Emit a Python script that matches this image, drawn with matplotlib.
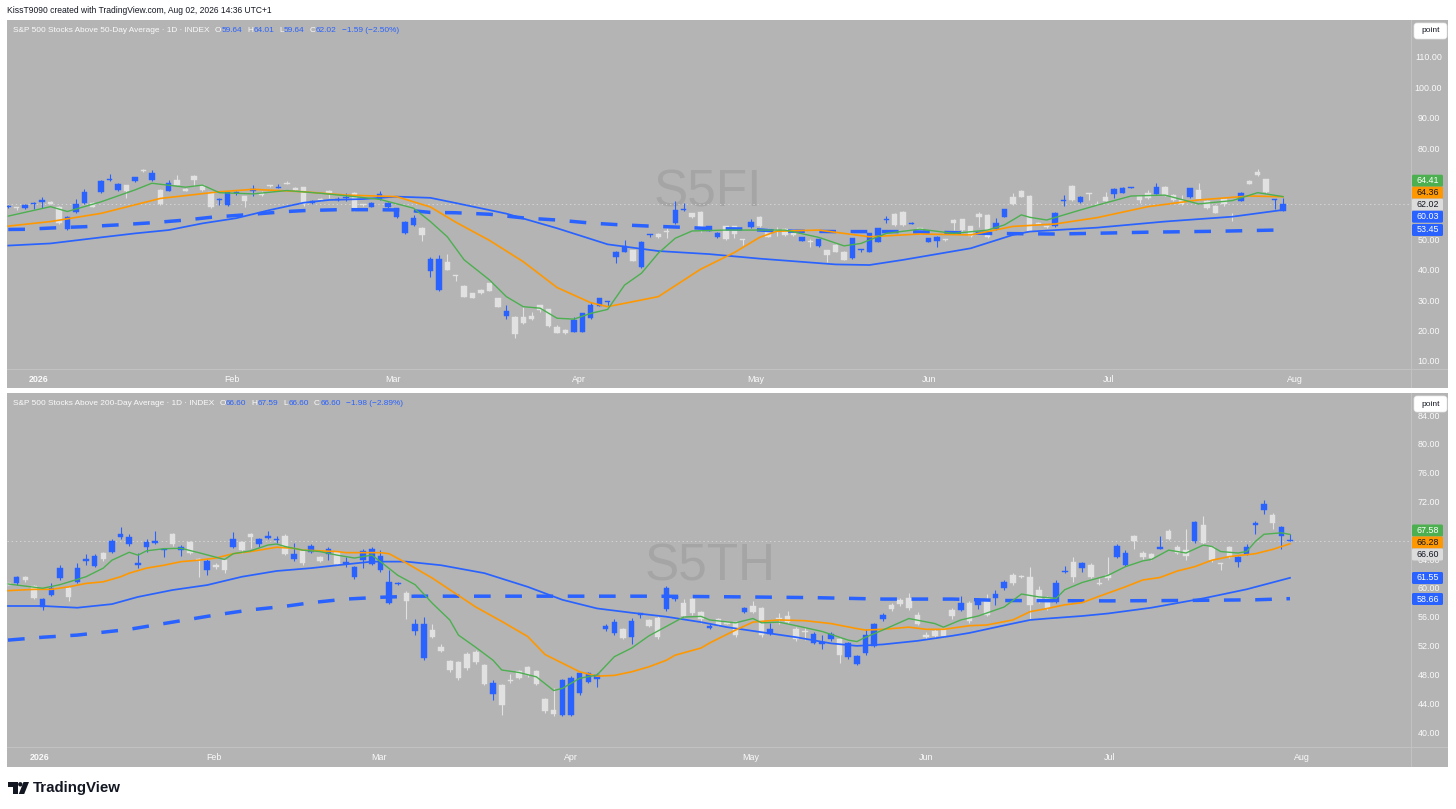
import matplotlib
matplotlib.use("Agg")
import matplotlib.pyplot as plt
from matplotlib import font_manager
from matplotlib.patches import FancyBboxPatch, Polygon, Circle, Rectangle
from matplotlib.transforms import IdentityTransform
import numpy as np

plt.rcParams['lines.scale_dashes'] = False
_names = {f.name for f in font_manager.fontManager.ttflist}
NARROW = 'Liberation Sans Narrow' if 'Liberation Sans Narrow' in _names else 'Liberation Sans'
REG = 'Liberation Sans'
SHRINK = 1.0 if NARROW == 'Liberation Sans Narrow' else 0.84

# ---------------- data: S5FI (top) ----------------
top_open = [60.9, 61.0, 60.5, 61.9, 62.6, 62.6, 60.9, 53.8, 59.3, 62.3,
 62.4, 65.8, 69.9, 66.5, 68.1, 69.5, 73.2, 69.8, 66.6, 66.3,
 69.8, 67.0, 71.3, 68.1, 65.8, 63.3, 61.6, 65.6, 64.5, 66.3,
 65.5, 68.0, 67.3, 68.8, 67.4, 67.5, 62.4, 63.7, 66.4, 63.4,
 63.9, 65.6, 61.8, 61.1, 63.5, 60.9, 57.6, 52.3, 55.1, 54.2,
 40.0, 33.7, 43.0, 38.5, 35.0, 32.6, 33.7, 35.9, 31.0, 25.2,
 24.9, 24.9, 25.1, 28.6, 27.3, 21.6, 20.5, 20.0, 20.0, 24.4,
 28.5, 29.8, 44.4, 46.3, 46.8, 41.2, 51.7, 52.1, 53.0, 55.6,
 60.0, 58.9, 59.4, 53.2, 51.2, 54.6, 54.6, 50.2, 54.3, 57.8,
 53.8, 53.2, 53.8, 53.4, 49.9, 49.9, 48.0, 46.8, 48.5, 46.3,
 44.1, 46.9, 46.3, 49.6, 56.8, 58.7, 59.4, 55.5, 54.0, 49.6,
 49.9, 50.3, 56.7, 56.9, 54.6, 58.7, 58.4, 53.7, 57.8, 64.4,
 66.3, 64.6, 55.7, 54.6, 54.7, 63.0, 67.9, 62.5, 65.4, 61.9,
 64.2, 65.3, 65.7, 67.3, 64.6, 65.5, 65.3, 67.5, 64.9, 63.3,
 64.2, 66.6, 63.1, 61.3, 63.5, 57.9, 63.1, 69.7, 72.6, 70.1,
 63.2, 59.64]
top_high = [61.6, 61.1, 62.0, 62.5, 64.3, 62.8, 61.2, 57.9, 63.6, 66.9,
 62.6, 69.8, 72.0, 68.9, 68.3, 71.0, 73.5, 73.3, 66.8, 69.9,
 71.4, 67.2, 71.5, 68.3, 66.0, 63.9, 66.0, 66.2, 64.7, 68.1,
 66.4, 68.3, 68.4, 69.7, 67.6, 67.7, 63.4, 63.9, 66.6, 64.2,
 65.5, 65.8, 62.0, 62.6, 66.3, 62.6, 60.8, 56.4, 58.4, 54.4,
 44.7, 45.2, 45.4, 38.6, 35.2, 32.8, 33.9, 36.1, 31.2, 28.8,
 25.1, 28.2, 26.6, 28.8, 27.5, 22.1, 20.7, 24.8, 26.2, 29.6,
 31.2, 30.1, 46.5, 50.0, 47.0, 49.8, 52.0, 52.3, 54.2, 62.8,
 62.3, 59.1, 59.6, 54.9, 52.7, 54.8, 54.8, 50.3, 56.9, 58.0,
 54.0, 54.3, 54.0, 53.6, 51.2, 50.6, 50.6, 47.0, 48.7, 46.5,
 50.9, 47.2, 52.5, 54.2, 58.0, 58.9, 59.6, 55.9, 54.2, 50.9,
 51.4, 50.5, 56.9, 57.1, 54.8, 59.4, 58.6, 57.3, 60.4, 65.7,
 66.5, 64.8, 55.9, 54.8, 59.3, 64.9, 68.1, 64.5, 65.7, 62.9,
 65.9, 67.2, 67.6, 67.6, 64.8, 66.6, 69.0, 67.9, 65.1, 64.9,
 67.4, 69.0, 63.3, 61.5, 63.7, 58.9, 66.0, 69.9, 73.6, 70.3,
 63.7, 64.01]
top_low = [60.7, 59.9, 60.3, 60.2, 60.8, 61.9, 55.4, 53.4, 59.0, 62.0,
 60.9, 65.6, 69.6, 66.3, 64.0, 69.3, 72.6, 69.6, 61.7, 66.1,
 68.1, 66.1, 68.0, 66.2, 60.7, 61.6, 61.3, 64.8, 60.9, 64.5,
 64.6, 67.5, 67.1, 68.4, 66.4, 61.3, 62.0, 62.8, 63.8, 62.8,
 62.9, 59.8, 61.4, 60.9, 63.2, 60.6, 57.3, 52.0, 54.9, 49.8,
 38.0, 33.5, 40.1, 36.6, 31.3, 31.0, 32.4, 33.3, 28.0, 24.3,
 17.9, 22.5, 23.8, 26.5, 21.6, 19.4, 19.2, 19.8, 19.8, 24.2,
 28.3, 28.4, 42.6, 46.1, 43.1, 41.0, 51.0, 50.8, 50.9, 55.4,
 59.8, 57.4, 52.6, 53.0, 50.7, 50.2, 50.9, 48.5, 54.1, 54.5,
 51.0, 51.3, 51.6, 51.6, 49.7, 47.7, 47.8, 43.0, 46.1, 43.4,
 43.9, 46.3, 46.1, 49.4, 55.6, 54.9, 54.9, 55.3, 52.1, 49.4,
 47.7, 49.9, 53.5, 53.2, 51.2, 54.5, 50.8, 53.5, 57.6, 61.8,
 64.2, 53.0, 55.3, 54.2, 54.5, 61.4, 63.1, 62.3, 63.3, 61.5,
 62.8, 64.1, 65.5, 67.1, 62.4, 63.7, 65.1, 64.7, 63.1, 61.6,
 64.0, 63.3, 60.4, 58.9, 61.3, 56.5, 62.9, 68.4, 71.3, 65.6,
 60.3, 59.64]
top_close = [61.4, 60.8, 61.8, 62.4, 63.3, 62.0, 55.6, 57.6, 62.0, 65.8,
 61.1, 69.5, 70.3, 68.7, 66.4, 70.8, 72.8, 72.2, 61.9, 69.0,
 68.3, 66.3, 70.0, 66.6, 60.9, 63.7, 65.8, 66.0, 62.8, 66.9,
 64.8, 67.8, 67.5, 68.6, 66.6, 62.0, 62.9, 63.3, 65.6, 63.6,
 64.4, 60.7, 61.6, 62.4, 65.3, 62.4, 60.6, 56.2, 57.3, 51.8,
 43.8, 43.8, 40.3, 38.3, 31.5, 31.2, 32.6, 33.5, 28.2, 26.8,
 19.1, 22.7, 24.0, 27.1, 21.8, 19.6, 19.4, 23.8, 26.0, 28.8,
 31.0, 30.0, 46.3, 48.0, 43.3, 49.6, 51.9, 51.0, 52.8, 60.0,
 60.4, 57.6, 54.3, 54.7, 52.5, 50.4, 52.1, 50.0, 56.1, 54.7,
 51.2, 53.0, 51.8, 51.8, 51.0, 49.4, 50.4, 45.2, 46.3, 43.6,
 50.7, 47.1, 52.3, 54.0, 57.0, 55.1, 55.1, 55.7, 52.3, 50.7,
 51.2, 50.1, 55.6, 53.4, 51.4, 57.6, 51.0, 55.6, 60.2, 62.0,
 64.4, 53.2, 55.5, 54.4, 58.9, 63.2, 63.3, 64.3, 65.2, 61.7,
 63.0, 67.0, 67.4, 67.5, 63.3, 63.9, 67.7, 64.9, 63.3, 62.0,
 67.2, 63.5, 60.6, 59.1, 62.0, 57.7, 65.5, 68.6, 71.5, 65.8,
 63.6, 62.02]

top_green_idx = [0, 5, 7, 11, 15, 17, 21, 23, 25, 29, 33, 37, 41, 44, 48, 50, 52, 54, 56, 57,
 59, 61, 63, 65, 67, 69, 71, 73, 75, 77, 79, 81, 85, 89, 92, 96, 99, 101, 104, 108,
 112, 116, 118, 120, 121, 123, 127, 129, 133, 137, 141, 145, 148, 151]
top_green_val = [58.0, 61.1, 59.5, 62.7, 66.6, 68.8, 67.5, 68.2, 65.7, 65.3, 66.4, 65.5, 64.4, 63.5, 60.6, 56.2, 51.2, 43.6, 39.2, 37.0,
 31.5, 28.2, 27.7, 24.4, 24.1, 26.0, 27.3, 35.3, 39.2, 45.8, 50.7, 53.1, 53.4, 53.4, 53.4, 51.0, 48.2, 49.0, 52.3, 53.7,
 52.3, 53.4, 55.1, 58.4, 57.6, 56.7, 60.0, 61.6, 64.6, 64.9, 62.0, 63.1, 65.7, 64.41]
top_orange_idx = [0, 5, 11, 18, 25, 29, 35, 40, 46, 50, 53, 57, 61, 65, 69, 71, 77, 82, 86, 89,
 91, 96, 102, 108, 114, 119, 124, 129, 135, 141, 147, 151]
top_orange_val = [54.7, 56.2, 58.9, 63.8, 66.0, 66.8, 66.0, 64.9, 64.4, 61.0, 56.0, 50.0, 43.0, 34.5, 29.5, 28.2, 31.5, 40.5, 46.0, 51.0,
 53.0, 53.4, 51.2, 52.1, 51.8, 54.6, 55.4, 57.5, 61.1, 63.3, 64.6, 64.36]
top_blue_idx = [0, 5, 11, 15, 19, 23, 27, 31, 35, 38, 42, 46, 50, 53, 59, 65, 71, 77, 83, 89,
 98, 102, 106, 114, 119, 121, 129, 137, 145, 151]
top_blue_val = [48.3, 49.0, 51.0, 52.3, 53.4, 55.6, 57.3, 60.0, 62.4, 63.3, 63.6, 64.4, 64.0, 62.3, 58.8, 54.0, 48.7, 46.5, 45.5, 44.0,
 42.1, 41.9, 43.6, 47.4, 51.8, 52.9, 54.2, 56.2, 57.8, 60.03]
top_dash_idx = [0, 2, 6, 9, 13, 17, 21, 24, 28, 33, 35, 39, 43, 47, 50, 53, 57, 61, 65, 69,
 72, 76, 80, 83, 87, 91, 98, 106, 116, 124, 128, 135, 143, 151]
top_dash_val = [53.6, 53.65, 54.2, 54.5, 55.1, 55.8, 56.7, 57.6, 58.4, 59.5, 59.8, 60.1, 60.1, 60.0, 59.2, 59.1, 58.6, 57.4, 56.7, 55.7,
 55.2, 54.7, 54.3, 53.9, 53.75, 53.1, 52.9, 52.9, 52.3, 52.1, 52.3, 52.7, 53.0, 53.45]

# ---------------- data: S5TH (bottom) ----------------
bot_open = [60.8, 60.8, 61.6, 60.4, 57.5, 59.2, 61.5, 60.2, 61.0, 63.9,
 63.2, 65.0, 65.2, 67.2, 66.2, 63.4, 65.9, 66.4, 65.4, 67.6,
 65.4, 66.5, 64.2, 62.6, 63.4, 64.0, 65.9, 66.5, 67.6, 66.3,
 67.1, 66.8, 67.4, 64.1, 65.4, 65.2, 64.4, 64.9, 65.1, 63.5,
 61.6, 64.0, 63.5, 62.6, 58.1, 60.7, 59.5, 54.1, 50.4, 54.3,
 51.9, 50.0, 49.8, 51.0, 51.3, 49.4, 45.4, 46.6, 47.4, 48.6,
 49.1, 48.6, 44.7, 43.2, 42.5, 42.5, 45.5, 47.1, 47.5, 54.4,
 53.9, 54.4, 53.4, 56.4, 55.7, 56.0, 57.2, 58.6, 58.1, 58.6,
 56.8, 54.6, 55.8, 55.4, 55.4, 56.8, 57.6, 57.3, 53.8, 56.0,
 56.3, 54.5, 54.2, 52.5, 52.4, 53.0, 53.0, 50.5, 49.6, 51.1,
 52.1, 55.8, 57.8, 58.5, 58.7, 56.4, 53.6, 54.1, 54.4, 57.1,
 57.1, 58.1, 57.8, 58.5, 58.8, 60.1, 62.0, 61.8, 61.6, 59.9,
 58.8, 58.2, 62.3, 63.8, 62.9, 63.4, 60.9, 61.9, 64.5, 63.4,
 67.3, 65.0, 64.8, 65.6, 68.1, 65.9, 65.4, 66.6, 68.9, 65.8,
 63.6, 65.8, 63.8, 64.9, 68.9, 71.0, 70.3, 67.4, 66.60]
bot_high = [60.9, 61.8, 61.8, 60.6, 58.8, 60.9, 63.4, 60.4, 63.6, 64.9,
 64.8, 65.2, 66.9, 68.6, 67.6, 65.0, 67.0, 68.1, 65.7, 67.8,
 66.1, 66.7, 64.3, 64.1, 63.6, 64.2, 67.9, 66.7, 67.8, 67.1,
 68.0, 67.3, 67.6, 66.4, 65.6, 66.3, 64.6, 65.9, 65.3, 64.5,
 63.2, 65.5, 65.8, 65.4, 62.6, 61.0, 59.7, 55.9, 56.1, 55.2,
 52.3, 50.2, 50.0, 51.2, 51.5, 49.6, 47.4, 46.8, 48.2, 48.8,
 49.3, 48.8, 44.9, 46.2, 47.5, 47.9, 48.5, 48.5, 48.3, 55.1,
 55.9, 54.6, 56.0, 56.7, 55.9, 56.2, 60.4, 59.2, 58.6, 58.8,
 57.0, 55.2, 56.0, 55.5, 55.6, 57.5, 58.3, 57.5, 55.3, 56.6,
 57.0, 54.7, 54.7, 54.0, 53.6, 54.0, 53.2, 52.7, 50.9, 54.5,
 55.3, 56.6, 58.0, 58.7, 59.4, 56.8, 54.0, 54.5, 54.6, 57.3,
 59.0, 58.3, 58.7, 59.3, 59.9, 61.2, 62.2, 62.0, 63.1, 60.4,
 59.0, 61.3, 63.2, 64.4, 63.8, 63.6, 61.5, 64.5, 66.3, 65.4,
 67.5, 65.3, 65.0, 67.3, 68.3, 66.1, 68.4, 69.5, 70.1, 66.0,
 63.6, 66.0, 64.6, 66.3, 69.4, 72.4, 70.6, 68.7, 67.59]
bot_low = [60.5, 60.6, 61.0, 58.6, 57.1, 59.0, 61.3, 58.4, 60.8, 63.3,
 63.0, 63.9, 65.0, 67.0, 66.0, 62.9, 65.2, 66.3, 64.5, 66.0,
 64.6, 64.8, 61.7, 61.9, 62.8, 62.2, 65.7, 65.0, 65.7, 65.9,
 67.0, 66.4, 64.7, 63.9, 63.4, 65.0, 63.7, 64.0, 63.3, 63.1,
 61.4, 62.9, 63.3, 62.4, 57.9, 60.5, 55.9, 53.6, 50.2, 53.2,
 51.2, 48.5, 47.3, 48.8, 49.6, 46.6, 44.6, 42.5, 47.0, 47.5,
 47.8, 46.6, 42.8, 42.4, 42.3, 42.3, 45.3, 46.9, 46.4, 54.2,
 53.6, 53.0, 52.3, 56.0, 54.7, 53.0, 57.0, 58.4, 56.1, 56.4,
 55.3, 54.5, 54.8, 55.1, 53.3, 56.6, 56.6, 53.4, 53.6, 55.1,
 55.2, 52.8, 52.9, 52.3, 51.6, 52.8, 49.7, 50.3, 49.4, 50.9,
 51.9, 55.6, 57.0, 57.7, 57.1, 55.0, 53.1, 53.2, 53.3, 55.8,
 56.9, 55.3, 57.2, 56.2, 57.8, 59.9, 60.6, 61.5, 55.7, 58.0,
 57.1, 58.0, 62.2, 61.0, 62.4, 61.5, 60.5, 61.3, 64.3, 63.2,
 65.6, 64.2, 64.0, 65.5, 66.8, 64.8, 64.0, 66.4, 66.2, 63.8,
 62.7, 64.3, 63.1, 64.7, 67.7, 70.4, 68.3, 65.5, 66.60]
bot_close = [60.6, 61.6, 61.2, 58.8, 58.6, 60.1, 62.9, 58.9, 62.9, 64.1,
 64.6, 64.1, 66.7, 67.6, 67.2, 63.6, 66.5, 66.6, 65.6, 66.2,
 65.8, 65.0, 64.0, 63.9, 63.0, 62.6, 66.9, 65.4, 67.2, 66.9,
 67.3, 67.0, 64.9, 64.9, 63.6, 66.0, 63.9, 65.5, 63.5, 63.7,
 63.0, 65.3, 65.5, 64.6, 61.0, 60.9, 58.3, 55.2, 55.2, 53.4,
 51.4, 48.7, 47.6, 49.0, 49.8, 46.8, 46.9, 43.9, 47.2, 47.7,
 48.0, 46.8, 43.0, 42.6, 47.3, 47.7, 48.3, 48.3, 48.1, 54.9,
 55.4, 53.2, 55.5, 56.6, 54.9, 53.3, 60.1, 59.0, 56.3, 56.6,
 55.8, 54.8, 55.0, 55.2, 53.6, 57.3, 56.8, 53.6, 54.5, 55.8,
 55.4, 53.0, 54.0, 53.8, 52.6, 53.8, 50.8, 52.5, 50.7, 53.6,
 55.1, 56.4, 57.2, 57.9, 57.3, 55.2, 53.4, 53.5, 53.5, 56.25,
 58.0, 55.5, 58.5, 56.4, 59.3, 61.0, 60.8, 61.6, 57.8, 58.2,
 57.3, 60.8, 62.5, 61.7, 63.6, 61.7, 60.7, 61.5, 66.0, 65.0,
 66.6, 64.4, 64.3, 65.8, 67.0, 65.0, 64.6, 69.3, 66.4, 64.0,
 63.5, 64.5, 64.4, 65.8, 69.1, 71.8, 69.2, 68.58, 66.60]

bot_green_idx = [0, 4, 6, 9, 11, 12, 14, 15, 16, 18, 20, 22, 25, 26, 28, 30, 31, 32, 34, 36,
 38, 39, 40, 42, 43, 45, 47, 49, 51, 52, 54, 56, 57, 59, 61, 63, 64, 66, 68, 70,
 72, 74, 76, 78, 80, 81, 84, 86, 87, 89, 91, 94, 97, 98, 99, 101, 104, 107, 108, 110,
 112, 115, 117, 119, 121, 122, 124, 127, 129, 131, 132, 134, 136, 138, 139, 140, 142, 143, 144, 145,
 147, 148]
bot_green_val = [60.7, 60.1, 60.6, 61.7, 62.9, 64.0, 65.1, 64.7, 65.3, 65.6, 65.65, 65.05, 64.1, 64.9, 65.3, 66.1, 66.25, 65.9, 65.4, 65.2,
 64.7, 64.5, 64.3, 64.7, 63.8, 61.9, 60.6, 58.0, 55.7, 53.6, 51.9, 50.1, 48.75, 48.4, 47.8, 45.9, 46.2, 47.6, 48.05, 50.6,
 51.8, 53.5, 54.8, 56.1, 56.2, 55.7, 55.3, 55.9, 55.3, 55.4, 54.9, 54.1, 52.9, 52.7, 53.3, 54.3, 55.9, 55.2, 54.7, 55.7,
 56.25, 57.5, 59.3, 58.9, 58.7, 59.9, 60.9, 61.9, 63.1, 63.9, 64.1, 65.4, 65.0, 66.1, 65.9, 65.2, 65.0, 65.2, 66.6, 67.6,
 67.8, 67.58]
bot_orange_idx = [0, 3, 5, 7, 9, 11, 13, 14, 16, 18, 20, 22, 24, 26, 28, 30, 31, 33, 34, 36,
 38, 39, 41, 43, 44, 46, 49, 51, 54, 57, 60, 62, 64, 66, 68, 70, 72, 74, 76, 77,
 80, 81, 84, 86, 89, 92, 95, 98, 99, 101, 104, 106, 108, 111, 113, 116, 118, 120, 122, 124,
 126, 129, 131, 133, 135, 137, 139, 141, 144, 146, 148]
bot_orange_val = [59.77, 59.95, 59.95, 60.3, 60.77, 61.0, 61.7, 62.2, 62.9, 63.3, 63.8, 64.0, 64.3, 64.9, 65.2, 65.6, 65.8, 65.65, 65.4, 65.3,
 65.2, 65.05, 65.05, 65.05, 64.9, 63.6, 61.5, 59.9, 57.5, 55.5, 53.4, 50.9, 49.7, 48.5, 47.9, 48.0, 48.5, 49.2, 50.1, 50.8,
 51.8, 52.5, 54.3, 55.4, 55.7, 55.6, 55.2, 54.5, 54.3, 54.4, 54.7, 54.4, 54.4, 54.9, 55.0, 55.7, 56.85, 57.3, 57.8, 58.1,
 59.0, 60.3, 61.25, 61.6, 62.5, 63.1, 64.0, 64.5, 64.9, 65.5, 66.28]
bot_blue_idx = [0, 4, 8, 12, 15, 19, 23, 27, 31, 35, 38, 42, 46, 50, 55, 60, 64, 68, 72, 76,
 80, 83, 87, 91, 95, 98, 101, 105, 109, 111, 116, 118, 120, 124, 127, 132, 138, 143, 148]
bot_blue_val = [57.64, 57.64, 57.4, 57.9, 58.9, 59.86, 60.55, 61.7, 62.5, 62.9, 63.3, 63.8, 63.8, 63.3, 62.2, 60.3, 58.5, 57.3, 56.7, 56.15,
 55.4, 54.7, 54.0, 53.3, 52.45, 52.1, 52.3, 52.8, 53.5, 53.9, 55.2, 55.7, 55.9, 56.25, 56.6, 57.4, 58.7, 59.96, 61.55]
bot_dash_idx = [0, 4, 8, 11, 14, 17, 21, 24, 28, 32, 35, 39, 43, 47, 60, 75, 85, 93, 97, 101,
 109, 115, 127, 135, 144, 148]
bot_dash_val = [52.9, 53.3, 53.6, 54.0, 54.4, 55.0, 55.8, 56.4, 57.1, 57.6, 58.1, 58.6, 58.85, 59.0, 59.0, 59.0, 58.9, 58.8, 58.7, 58.6,
 58.6, 58.4, 58.35, 58.4, 58.5, 58.66]

month_labels = ["2026", "Feb", "Mar", "Apr", "May", "Jun", "Jul", "Aug"]
top_month_pos = [3.6, 26.5, 45.6, 67.6, 88.6, 109.1, 130.3, 152.4]
bot_month_pos = [3.6, 23.8, 42.8, 65.0, 85.8, 106.0, 127.2, 149.4]
top_ticks = [10, 20, 30, 40, 50, 80, 90, 100, 110]
bot_ticks = [40, 44, 48, 52, 56, 60, 64, 72, 76, 80, 84]

top_title = "S&P 500 Stocks Above 50-Day Average · 1D · INDEX"
bot_title = "S&P 500 Stocks Above 200-Day Average · 1D · INDEX"
top_ohlc = ("59.64", "64.01", "59.64", "62.02", "\u22121.59 (\u22122.50%)")
bot_ohlc = ("66.60", "67.59", "66.60", "66.60", "\u22121.98 (\u22122.89%)")

# ---------------- style ----------------
W, H = 1456, 809
BG = '#b4b4b4'
BLUE = '#2962ff'
WHITE_C = '#e1e1e1'
GREEN = '#4caf50'
ORANGE = '#ff9800'
LT = '#fafafa'
DARK = '#131722'
SEP = '#c2c2c2'

fig = plt.figure(figsize=(W / 100, H / 100), dpi=100, facecolor='white')
renderer = fig.canvas.get_renderer()


def frac(x0, y0, x1, y1):
    return [x0 / W, 1 - y1 / H, (x1 - x0) / W, (y1 - y0) / H]


def px_patch(p):
    p.set_transform(IdentityTransform())
    fig.add_artist(p)


def px_rect(x0, y0, x1, y1, color, z=0):
    px_patch(Rectangle((x0, H - y1), x1 - x0, y1 - y0, facecolor=color, edgecolor='none', zorder=z))


def ftext(x, y, s, **kw):
    return fig.text(x / W, 1 - y / H, s, **kw)


def seq_text(x, y, pieces, size):
    for s, col, gap in pieces:
        t = ftext(x, y, s, color=col, fontsize=size, family=NARROW, ha='left', va='center', zorder=20)
        bb = t.get_window_extent(renderer)
        x += bb.width + gap


def panel(y_top, y_axis, y_bot, ylim, xlim, o, h, l, c, lines, ticks, mpos, min_h,
          title, ohlc, header_y, mark, mark_xy, box_ys):
    px_rect(7, y_top, 1448, y_bot, BG, z=-5)
    ax = fig.add_axes(frac(7, y_top, 1411, y_axis))
    ax.set_facecolor(BG)
    ax.patch.set_alpha(0)
    for s in ax.spines.values():
        s.set_visible(False)
    ax.set_xlim(*xlim)
    ax.set_ylim(*ylim)

    # watermark
    ftext(mark_xy[0], mark_xy[1], mark, fontsize=37, family=NARROW, color='#a5a5a5',
          ha='center', va='center', zorder=-1)

    # candles
    o, h, l, c = map(np.asarray, (o, h, l, c))
    x = np.arange(len(o))
    up = c >= o
    cols = np.where(up, BLUE, WHITE_C)
    ax.vlines(x, l, h, colors=cols, lw=0.8, zorder=3)
    bottom = np.minimum(o, c)
    height = np.maximum(np.abs(c - o), min_h)
    ax.bar(x, height, bottom=bottom, width=0.64, color=cols, edgecolor=cols, linewidth=0.3, zorder=4)

    # moving-average lines
    (gi, gv), (oi, ov), (bi, bv), (di, dv) = lines
    ax.plot(di, dv, color=BLUE, lw=2.5, dashes=(12, 10.5), solid_capstyle='butt', zorder=5)
    ax.plot(bi, bv, color=BLUE, lw=1.25, zorder=6)
    ax.plot(oi, ov, color=ORANGE, lw=1.2, zorder=6)
    ax.plot(gi, gv, color=GREEN, lw=1.0, zorder=7)

    # last price dotted line
    ax.axhline(c[-1], color='#d6d6d6', lw=0.7, ls=(0, (1, 2)), zorder=2)

    # time axis
    ax.set_xticks(mpos, month_labels)
    ax.tick_params(axis='x', length=0, pad=4.5, labelsize=7.6 * SHRINK, labelcolor=LT)
    for lab in ax.get_xticklabels():
        lab.set_family(NARROW)
    ax.get_xticklabels()[0].set_fontweight('bold')
    ax.set_yticks([])

    # price scale labels
    for v in ticks:
        ax.text(1.0125, v, f"{v:.2f}", transform=ax.get_yaxis_transform(), ha='center', va='center',
                fontsize=7.6 * SHRINK, family=NARROW, color=LT, clip_on=False, zorder=8)

    # separators
    px_rect(7, y_axis, 1448, y_axis + 1, SEP, z=1)
    px_rect(1411, y_top, 1412, y_bot, SEP, z=1)

    # last-value boxes (green, orange, close, blue, dashed)
    vals = [gv[-1], ov[-1], c[-1], bv[-1], dv[-1]]
    styles = [(GREEN, 'white'), (ORANGE, DARK), ('#dcdcdc', DARK), (BLUE, 'white'), (BLUE, 'white')]
    for v, yb, (fc, tc) in zip(vals, box_ys, styles):
        px_patch(FancyBboxPatch((1412, H - yb - 6), 31, 12, boxstyle='round,pad=0,rounding_size=1.5',
                                facecolor=fc, edgecolor='none', zorder=15))
        ftext(1427.5, yb, f"{v:.2f}", fontsize=7.6 * SHRINK, family=NARROW, color=tc,
              ha='center', va='center', zorder=16)

    # 'point' button
    px_patch(FancyBboxPatch((1414, H - y_top - 19), 33, 16, boxstyle='round,pad=0,rounding_size=3',
                            facecolor='white', edgecolor='#e6e6e6', lw=0.5, zorder=15))
    ftext(1430.5, y_top + 11, "point", fontsize=7.2 * SHRINK, family=NARROW, color=DARK,
          ha='center', va='center', zorder=16)

    # header
    pieces = [(title, LT, 5), ("O", LT, 0.5), (ohlc[0], BLUE, 5), ("H", LT, 0.5), (ohlc[1], BLUE, 5),
              ("L", LT, 0.5), (ohlc[2], BLUE, 5), ("C", LT, 0.5), (ohlc[3], BLUE, 5), (ohlc[4], BLUE, 0)]
    seq_text(13, header_y, pieces, 7.1 * SHRINK)
    return ax


panel(20, 369, 388, (7.697, 122.5), (-0.154, 166.16), top_open, top_high, top_low, top_close,
      [(top_green_idx, top_green_val), (top_orange_idx, top_orange_val),
       (top_blue_idx, top_blue_val), (top_dash_idx, top_dash_val)],
      top_ticks, top_month_pos, 1 / 3.04, top_title, top_ohlc, 30.5, "S5FI", (708, 193),
      [180.7, 192.7, 204.7, 216.7, 230.0])

panel(393, 747, 767, (38.056, 87.22), (-0.115, 161.97), bot_open, bot_high, bot_low, bot_close,
      [(bot_green_idx, bot_green_val), (bot_orange_idx, bot_orange_val),
       (bot_blue_idx, bot_blue_val), (bot_dash_idx, bot_dash_val)],
      bot_ticks, bot_month_pos, 1 / 7.2, bot_title, bot_ohlc, 403.5, "S5TH", (710, 567),
      [530.5, 542.5, 554.5, 578, 599])

# top caption
ftext(7, 10.5, "KissT9090 created with TradingView.com, Aug 02, 2026 14:36 UTC+1",
      fontsize=7.3 * SHRINK, family=NARROW, color=DARK, ha='left', va='center')

# TradingView logo
px_patch(Polygon([(8, H - 782), (17.5, H - 782), (17.5, H - 794), (13, H - 794), (13, H - 786.5), (8, H - 786.5)],
                 closed=True, facecolor=DARK, edgecolor='none'))
px_patch(Circle((20.3, H - 784.3), 2.2, facecolor=DARK, edgecolor='none'))
px_patch(Polygon([(23.5, H - 782), (29, H - 782), (24.2, H - 794), (18.8, H - 794)],
                 closed=True, facecolor=DARK, edgecolor='none'))
ftext(33, 788, "TradingView", fontsize=10.8, family=REG, fontweight='bold', color=DARK,
      ha='left', va='center')

fig.savefig("out.png", dpi=100, facecolor='white')
